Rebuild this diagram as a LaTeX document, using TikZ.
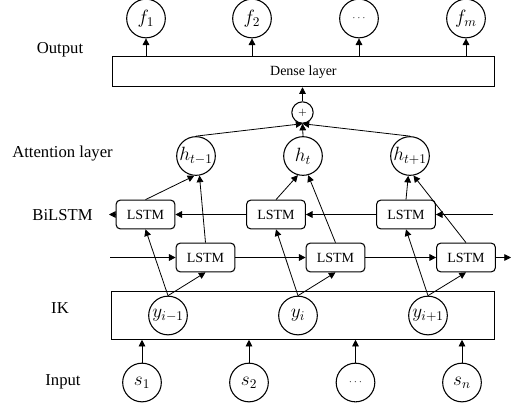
\documentclass[tikz,border=0pt]{standalone}
\usepackage{fontspec}
\setmainfont{Liberation Serif}
\usetikzlibrary{arrows.meta,positioning}
\tikzstyle{unit}=[draw,circle,line width=0.8pt,minimum size=29pt,inner sep=0pt,font=\Large]

\begin{document}
\begin{tikzpicture}[
  x=0.75pt,
  y=-0.75pt,
  line width=0.6pt,
  >={Triangle[length=5pt,width=5pt]},
  cell/.style={
    draw,
    line width=0.8pt,
    rounded corners=3pt,
    minimum width=44pt,
    minimum height=21.5pt,
    inner sep=0pt,
    font=\fontsize{10.5}{12}\selectfont
    },
  layer/.style={
    draw,
    line width=0.8pt,
    minimum width=287pt,
    inner sep=0pt,
    font=\fontsize{10.5}{12}\selectfont
    },
  caption/.style={font=\fontsize{12.5}{15}\selectfont}
]
\useasboundingbox (0,0) rectangle (518,408);

% layer names
\node[caption] (cout) at (60,50) {Output};
\node[caption] (catt) at (62.5,154) {Attention layer};
\node[caption] (cbil) at (62.5,215) {BiLSTM};
\node[caption] (cik) at (60,308) {IK};
\node[caption] (cin) at (63,381.5) {Input};

% output
\node[unit] (f1) at (146,18.5) {$f_1$};
\node[unit] (f2) at (252,18.5) {$f_2$};
\node[unit] (f3) at (359,18.5) {\scriptsize$\cdots$};
\node[unit] (f4) at (466,18.5) {$f_m$};
\node[layer, minimum height=22.5pt] (dense) at (303.4,71.7) {Dense layer};
\node[draw,circle,line width=0.8pt,minimum size=16pt,inner sep=0pt] (sum) at (302.5,112.5) {\footnotesize$+$};

% attention
\node[unit] (h1) at (196,156) {$h_{t-1}$};
\node[unit] (h2) at (303,156) {$h_t$};
\node[unit] (h3) at (410,156) {$h_{t+1}$};

% bilstm
\node[cell] (u1) at (145.5,214.5) {LSTM};
\node[cell] (u2) at (276,214.5) {LSTM};
\node[cell] (u3) at (406,214.5) {LSTM};
\node[cell] (l1) at (205.5,257.5) {LSTM};
\node[cell] (l2) at (335.5,257.5) {LSTM};
\node[cell] (l3) at (466,257.5) {LSTM};
\coordinate (bin) at (493,214.5);
\coordinate (bout) at (109,214.5);
\coordinate (fin) at (110,257.5);
\coordinate (fout) at (511,257.5);

% ik
\node[layer, minimum height=35.6pt] (ik) at (303,315.5) {};
\node[unit] (y1) at (168,315.5) {$y_{i-1}$};
\node[unit] (y2) at (298,315.5) {$y_i$};
\node[unit] (y3) at (428,315.5) {$y_{i+1}$};

% input
\node[unit] (s1) at (142,382.5) {$s_1$};
\node[unit] (s2) at (249,382.5) {$s_2$};
\node[unit] (s3) at (355.5,382.5) {\scriptsize$\cdots$};
\node[unit] (s4) at (462,382.5) {$s_n$};

\foreach \i in {1,2,3,4} {
  \draw[->] (s\i.north) -- (s\i.north |- ik.south);
  \draw[->] (f\i.south |- dense.north) -- (f\i.south);
}
\draw[->] (sum.north) -- (sum.north |- dense.south);
\foreach \i in {1,2,3} {
  \draw[->] (h\i.north) -- (sum.south);
  \draw[->] (y\i.north) -- (u\i.south);
  \draw[->] (y\i.north) -- (l\i.south);
}
\draw[->] (u1.north) -- (h1.265);
\draw[->] (l1.north) -- (h1.280);
\draw[->] (u2.north) -- (h2.255);
\draw[->] (l2.north) -- (h2.285);
\draw[->] (u3.north) -- (h3.265);
\draw[->] (l3.north) -- (h3.280);

\draw[->] (bin) -- (u3.east);
\draw[->] (u3.west) -- (u2.east);
\draw[->] (u2.west) -- (u1.east);
\draw[->] (u1.west) -- (bout);
\draw[->] (fin) -- (l1.west);
\draw[->] (l1.east) -- (l2.west);
\draw[->] (l2.east) -- (l3.west);
\draw[->] (l3.east) -- (fout);

\end{tikzpicture}
\end{document}
